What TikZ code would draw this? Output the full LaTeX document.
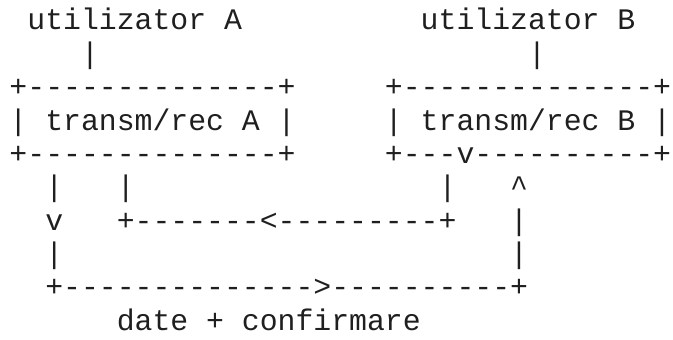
\documentclass[tikz,border=0pt]{standalone}
\usepackage{fontspec}
\newfontfamily\mono{Liberation Mono}[Ligatures=TeXOff]
\begin{document}
% one unit = one character cell of the monospaced grid
\begin{tikzpicture}[x=17.88pt, y=-33.333pt,
  cell/.style={anchor=base west, inner sep=0pt, outer sep=0pt,
    font=\mono\fontsize{29.8pt}{33.3pt}\selectfont, text=black!88}]
\useasboundingbox (-0.531,-0.9) rectangle (37.108,9.27);

% users
\node[cell] (userA) at (1,0) {utilizator A};
\node[cell] (userB) at (23,0) {utilizator B};
\node[cell] (linkA) at (4,1) {|};
\node[cell] (linkB) at (29,1) {|};

% transmitter/receiver boxes
\node[cell] (boxAtop) at (0,2) {+--------------+};
\node[cell] (boxBtop) at (21,2) {+--------------+};
\node[cell] (boxA) at (0,3) {| transm/rec A |};
\node[cell] (boxB) at (21,3) {| transm/rec B |};
\node[cell] (boxAbot) at (0,4) {+--------------+};
\node[cell] (boxBbot) at (21,4) {+---v----------+};

% channel lines
\node[cell] (outA) at (2,5) {|};
\node[cell] (inA) at (6,5) {|};
\node[cell] (outB) at (24,5) {|};
\node[cell] (inB) at (28,5) {\textasciicircum};

\node[cell] (arrA) at (2,6) {v};
\node[cell] (back) at (6,6) {+-------<---------+};
\node[cell] (riseB) at (28,6) {|};

\node[cell] (downA) at (2,7) {|};
\node[cell] (upB) at (28,7) {|};

\node[cell] (forward) at (2,8) {+-------------->----------+};
\node[cell] (label) at (6,9) {date + confirmare};
\end{tikzpicture}
\end{document}
